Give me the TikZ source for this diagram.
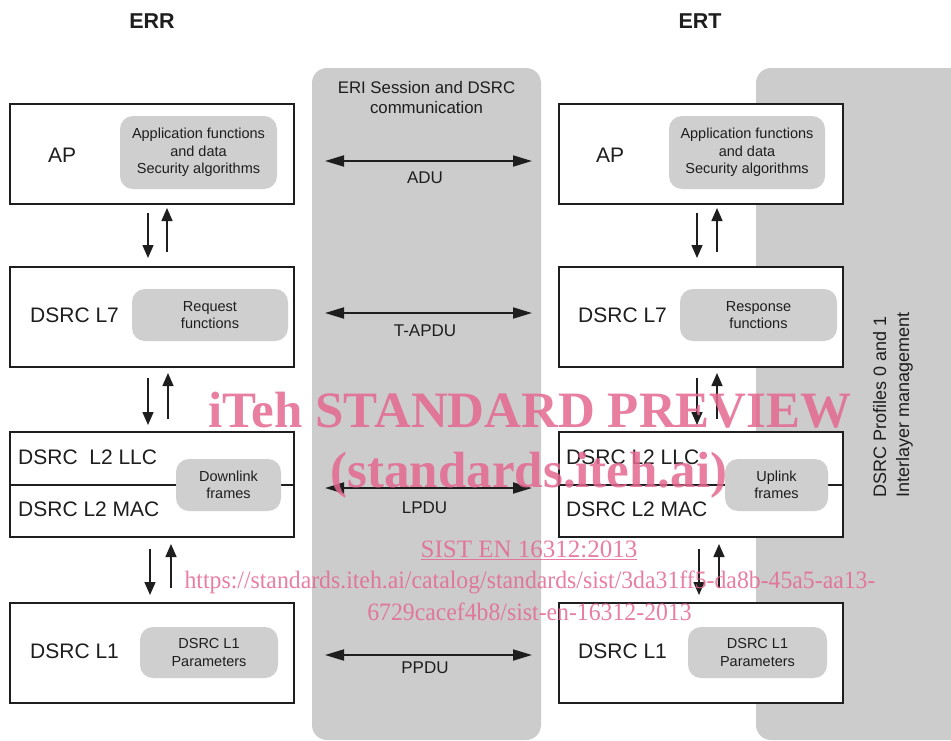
\documentclass[tikz,border=0pt]{standalone}
\usepackage{fontspec}
\setmainfont{Liberation Sans}
\newfontfamily\wmfontb{Liberation Serif}
\newfontfamily\wmfontc[FakeStretch=0.95]{Liberation Serif}
\usetikzlibrary{arrows.meta}
\definecolor{panelgray}{RGB}{204,204,204}
\definecolor{innergray}{RGB}{207,207,207}
\definecolor{wmpink}{RGB}{228,105,145}
\definecolor{ink}{RGB}{30,30,30}
\begin{document}
\begin{tikzpicture}[x=1pt,y=-1pt,
  lay/.style={draw=ink, line width=1.2pt, fill=white, minimum width=284pt, inner sep=0pt, outer sep=0pt},
  innerbox/.style={fill=innergray, rounded corners=13pt, align=center, inner sep=0pt, outer sep=0pt,
    font=\fontsize{14.5}{17.5}\selectfont, text=ink},
  lbl/.style={font=\fontsize{21}{24}\selectfont, anchor=west, inner sep=0pt, text=ink},
  varrow/.style={draw=ink, line width=1.5pt, -{Triangle[length=13pt,width=11pt]}},
  harrow/.style={draw=ink, line width=1.9pt, {Triangle[length=19pt,width=11pt]}-{Triangle[length=19pt,width=11pt]}},
  plabel/.style={font=\fontsize{17}{20}\selectfont, text=ink, inner sep=0pt},
  wm/.style={text=wmpink, text opacity=0.85, inner sep=0pt, anchor=base},
]
\useasboundingbox (0,0) rectangle (951,740);
\fill[white] (0,0) rectangle (951,740);

% panels
\fill[panelgray, rounded corners=15pt] (312,68) rectangle (541,740);
\fill[panelgray, rounded corners=15pt] (756,68) rectangle (990,740);

% titles
\node[font=\bfseries\fontsize{21.5}{24}\selectfont, text=ink, inner sep=0pt] (err) at (152,21.5) {ERR};
\node[font=\bfseries\fontsize{21.5}{24}\selectfont, text=ink, inner sep=0pt] (ert) at (700,21.5) {ERT};
\node[font=\fontsize{16.8}{20.5}\selectfont, text=ink, align=center, inner sep=0pt] (eri) at (426.5,97.5) {ERI Session and DSRC\\communication};
\node[font=\fontsize{18}{23}\selectfont, text=ink, align=left, inner sep=0pt, rotate=90] (prof) at (893,405) {DSRC Profiles 0 and 1\\Interlayer management};

% left stack
\node[lay, minimum height=100pt] (apL) at (152,154) {};
\node[lay, minimum height=100pt] (l7L) at (152,317) {};
\node[lay, minimum height=105pt] (l2L) at (152,484.5) {};
\node[lay, minimum height=100pt] (l1L) at (152,653) {};
\draw[ink, line width=1.2pt] (l2L.west |- 0,485) -- (l2L.east |- 0,485);

% right stack
\node[lay, minimum height=100pt] (apR) at (701,154) {};
\node[lay, minimum height=100pt] (l7R) at (701,317) {};
\node[lay, minimum height=105pt] (l2R) at (701,484.5) {};
\node[lay, minimum height=100pt] (l1R) at (701,653) {};
\draw[ink, line width=1.2pt] (l2R.west |- 0,485) -- (l2R.east |- 0,485);

% inner boxes left
\node[innerbox, minimum width=157pt, minimum height=73pt] (apiL) at (198.5,152.5) {Application functions\\and data\\Security algorithms};
\node[innerbox, minimum width=156pt, minimum height=52pt] (l7iL) at (210,315) {Request\\functions};
\node[innerbox, minimum width=105pt, minimum height=52pt] (l2iL) at (228.5,485) {Downlink\\frames};
\node[innerbox, minimum width=138pt, minimum height=51pt] (l1iL) at (209,652.5) {DSRC L1\\Parameters};

% inner boxes right
\node[innerbox, minimum width=156pt, minimum height=73pt] (apiR) at (747,152.5) {Application functions\\and data\\Security algorithms};
\node[innerbox, minimum width=157pt, minimum height=52pt] (l7iR) at (758.5,315) {Response\\functions};
\node[innerbox, minimum width=103pt, minimum height=52pt] (l2iR) at (776.5,485) {Uplink\\frames};
\node[innerbox, minimum width=139pt, minimum height=51pt] (l1iR) at (757.5,652.5) {DSRC L1\\Parameters};

% layer labels
\node[lbl] (apLt) at (48,155) {AP};
\node[lbl] (l7Lt) at (30,315.5) {DSRC L7};
\node[lbl] (llcLt) at (18,457) {DSRC\ \ L2 LLC};
\node[lbl] (macLt) at (18,509.5) {DSRC L2 MAC};
\node[lbl] (l1Lt) at (30,651.5) {DSRC L1};
\node[lbl] (apRt) at (596,155) {AP};
\node[lbl] (l7Rt) at (578,315.5) {DSRC L7};
\node[lbl] (llcRt) at (566,457) {DSRC L2 LLC};
\node[lbl] (macRt) at (566,509.5) {DSRC L2 MAC};
\node[lbl] (l1Rt) at (578,651.5) {DSRC L1};

% vertical arrows left
\draw[varrow] ([shift={(-4,9)}]apL.south) -- ([shift={(-4,-9)}]l7L.north);
\draw[varrow] ([shift={(15,-15)}]l7L.north) -- ([shift={(15,4)}]apL.south);
\draw[varrow] ([shift={(-4,11)}]l7L.south) -- ([shift={(-4,-7)}]l2L.north);
\draw[varrow] ([shift={(16,-13)}]l2L.north) -- ([shift={(16,6)}]l7L.south);
\draw[varrow] ([shift={(-2,12)}]l2L.south) -- ([shift={(-2,-8)}]l1L.north);
\draw[varrow] ([shift={(19,-15)}]l1L.north) -- ([shift={(19,7)}]l2L.south);

% vertical arrows right
\draw[varrow] ([shift={(-4,9)}]apR.south) -- ([shift={(-4,-9)}]l7R.north);
\draw[varrow] ([shift={(16,-15)}]l7R.north) -- ([shift={(16,4)}]apR.south);
\draw[varrow] ([shift={(-4,11)}]l7R.south) -- ([shift={(-4,-7)}]l2R.north);
\draw[varrow] ([shift={(16,-13)}]l2R.north) -- ([shift={(16,6)}]l7R.south);
\draw[varrow] ([shift={(-2,12)}]l2R.south) -- ([shift={(-2,-8)}]l1R.north);
\draw[varrow] ([shift={(18,-15)}]l1R.north) -- ([shift={(18,7)}]l2R.south);

% horizontal peer arrows
\draw[harrow] ([shift={(31,7)}]apL.east) -- node[plabel, midway, xshift=-3.5pt, yshift=-16.5pt] (adu) {ADU} ([shift={(-27,7)}]apR.west);
\draw[harrow] ([shift={(31,-4)}]l7L.east) -- node[plabel, midway, xshift=-3.5pt, yshift=-17.5pt] (tapdu) {T-APDU} ([shift={(-27,-4)}]l7R.west);
\draw[harrow] ([shift={(31,3.5)}]l2L.east) -- node[plabel, midway, xshift=-4pt, yshift=-19.5pt] (lpdu) {LPDU} ([shift={(-27,3.5)}]l2R.west);
\draw[harrow] ([shift={(31,2)}]l1L.east) -- node[plabel, midway, xshift=-3.5pt, yshift=-12.5pt] (ppdu) {PPDU} ([shift={(-27,2)}]l1R.west);

% watermark
\node[wm, font=\wmfontb\bfseries\fontsize{51}{54}\selectfont] (wm1) at (530,427) {iTeh STANDARD PREVIEW};
\node[wm, font=\wmfontb\bfseries\fontsize{51}{54}\selectfont] (wm2) at (529,487) {(standards.iteh.ai)};
\node[wm, font=\wmfontb\fontsize{25}{28}\selectfont] (wm3) at (529,557) {\underline{SIST EN 16312:2013}};
\node[wm, font=\wmfontc\fontsize{25}{28}\selectfont] (wm4) at (530,588) {https://standards.iteh.ai/catalog/standards/sist/3da31ff5-da8b-45a5-aa13-};
\node[wm, font=\wmfontc\fontsize{25}{28}\selectfont] (wm5) at (529.5,620) {6729cacef4b8/sist-en-16312-2013};
\end{tikzpicture}
\end{document}
